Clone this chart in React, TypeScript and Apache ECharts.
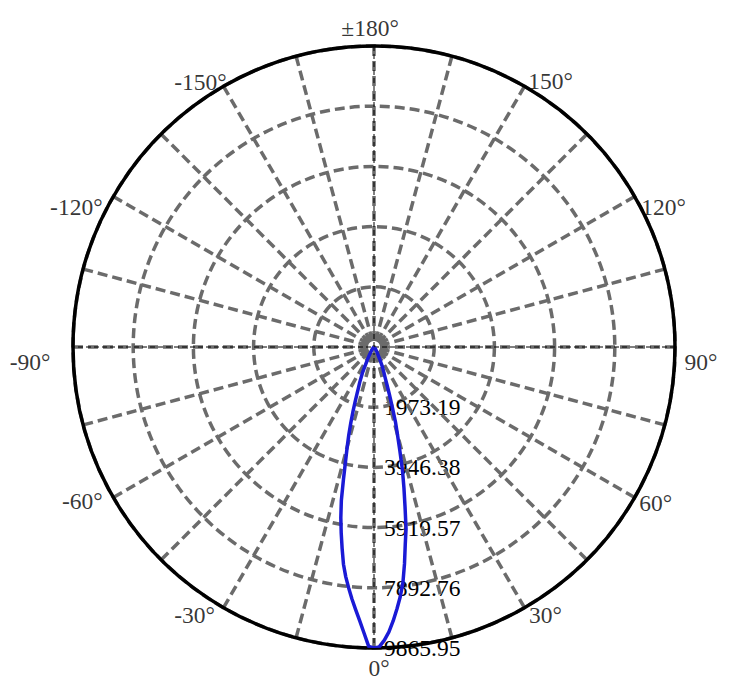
import React, { useEffect, useRef } from "react";
import * as echarts from "echarts";

const maxIntensity = 9865.95;
const ringStep = 1973.19;

// luminous intensity (cd) against angle (deg)
const curveAngles = [
  -180, -150, -120, -90, -75, -60, -50, -40, -35, -30, -27, -24, -22, -21, -20,
  -19, -18, -17, -16, -15, -14, -13, -12, -11, -10, -9, -8, -7, -6, -5, -4, -3,
  -2, -1, 0, 1, 2, 3, 4, 5, 6, 7, 8, 9, 10, 11, 12, 13, 14, 15, 16, 17, 18, 19,
  20, 21, 23, 25, 30, 35, 40, 50, 60, 75, 90, 120, 150, 180,
];
const curveValues = [
  0, 0, 0, 0, 3, 10, 25, 70, 140, 300, 500, 940, 1250, 1400, 1620,
  1910, 2240, 2600, 3000, 3400, 3850, 4450, 5150, 5700, 6190, 6680, 7190, 7590, 7940, 8290, 8630, 8980,
  9380, 9820, 9866, 9830, 9620, 9350, 9000, 8620, 8230, 7780, 7180, 6550, 6050, 5330, 4720, 4150, 3500, 2970, 2550, 2040, 1620, 1300,
  1060, 920, 700, 470, 200, 100, 50, 20, 8, 2, 0, 0, 0, 0,
];

const angleTicks = [0, 30, 60, 90, 120, 150, 180, -150, -120, -90, -60, -30];
const angleTickLabels = ["0°", "30°", "60°", "90°", "120°", "150°", "±180°", "-150°", "-120°", "-90°", "-60°", "-30°"];
// where each angle label sits relative to its point on the rim (px)
const angleLabelOffsets = [
  [5, 20], [21, 7], [21, 5], [26, 15], [29, 10], [26, -5], [-4, -18],
  [-23, -4], [-37, 10], [-43, 15], [-31, 3], [-29, 7],
];

const gridGray = "#6b6b6b";
const curveBlue = "#1a1ad6";
const font = "'Liberation Serif', 'Times New Roman', serif";
const fontSize = 23.5;

const toAxisAngle = (a: number) => (a < 0 ? a + 360 : a);

const App: React.FC = () => {
  const chartRef = useRef<HTMLDivElement>(null);

  useEffect(() => {
    if (!chartRef.current) return;
    const chart = echarts.init(chartRef.current, undefined, { renderer: "svg" });

    const dash = [10, 5];

    chart.setOption({
      animation: false,
      polar: { center: [374, 347], radius: 301 },
      angleAxis: {
        type: "value",
        min: 0,
        max: 360,
        interval: 15,
        startAngle: 270,
        clockwise: false,
        z: 1,
        axisLine: { show: true, lineStyle: { color: "#000", width: 3.5 } },
        axisTick: { show: false },
        axisLabel: { show: false },
        splitLine: { show: true, lineStyle: { color: gridGray, width: 3.5, type: dash } },
      },
      radiusAxis: {
        type: "value",
        min: 0,
        max: maxIntensity,
        interval: ringStep,
        axisLine: { show: false },
        axisTick: { show: false },
        axisLabel: {
          show: true,
          margin: 10,
          color: "#000",
          fontFamily: font,
          fontSize,
          showMinLabel: false,
          formatter: (v: number) => (v === 0 ? "" : v.toFixed(2)),
        },
        splitLine: { show: true, lineStyle: { color: gridGray, width: 3.5, type: dash } },
      },
      series: [
        {
          type: "line",
          coordinateSystem: "polar",
          data: [
            [maxIntensity, 180],
            [maxIntensity, 0],
          ],
          symbol: "none",
          silent: true,
          z: 1.5,
          lineStyle: { color: "#000", width: 1, type: [5, 3] },
        },
        {
          type: "line",
          coordinateSystem: "polar",
          data: [
            [maxIntensity, 90],
            [maxIntensity, 270],
          ],
          symbol: "none",
          silent: true,
          z: 1.5,
          lineStyle: { color: "#000", width: 1, type: [5, 3] },
        },
        {
          type: "line",
          coordinateSystem: "polar",
          data: curveAngles.map((a, i) => [curveValues[i], toAxisAngle(a)]),
          symbol: "none",
          z: 3,
          lineStyle: { color: curveBlue, width: 3.5, join: "round" },
        },
        {
          type: "scatter",
          coordinateSystem: "polar",
          symbolSize: 1,
          silent: true,
          itemStyle: { color: "transparent" },
          label: {
            show: true,
            position: "inside",
            align: "center",
            verticalAlign: "middle",
            color: "#000",
            fontFamily: font,
            fontSize,
          },
          data: angleTicks.map((a, i) => ({
            value: [maxIntensity, toAxisAngle(a)],
            label: { formatter: angleTickLabels[i], offset: angleLabelOffsets[i] },
          })),
        },
      ],
    });

    return () => {
      chart.dispose();
    };
  }, []);

  return (
    <div
      ref={chartRef}
      style={{ position: "fixed", left: 0, top: 0, width: 751, height: 690, background: "#fff" }}
    />
  );
};

export default App;
